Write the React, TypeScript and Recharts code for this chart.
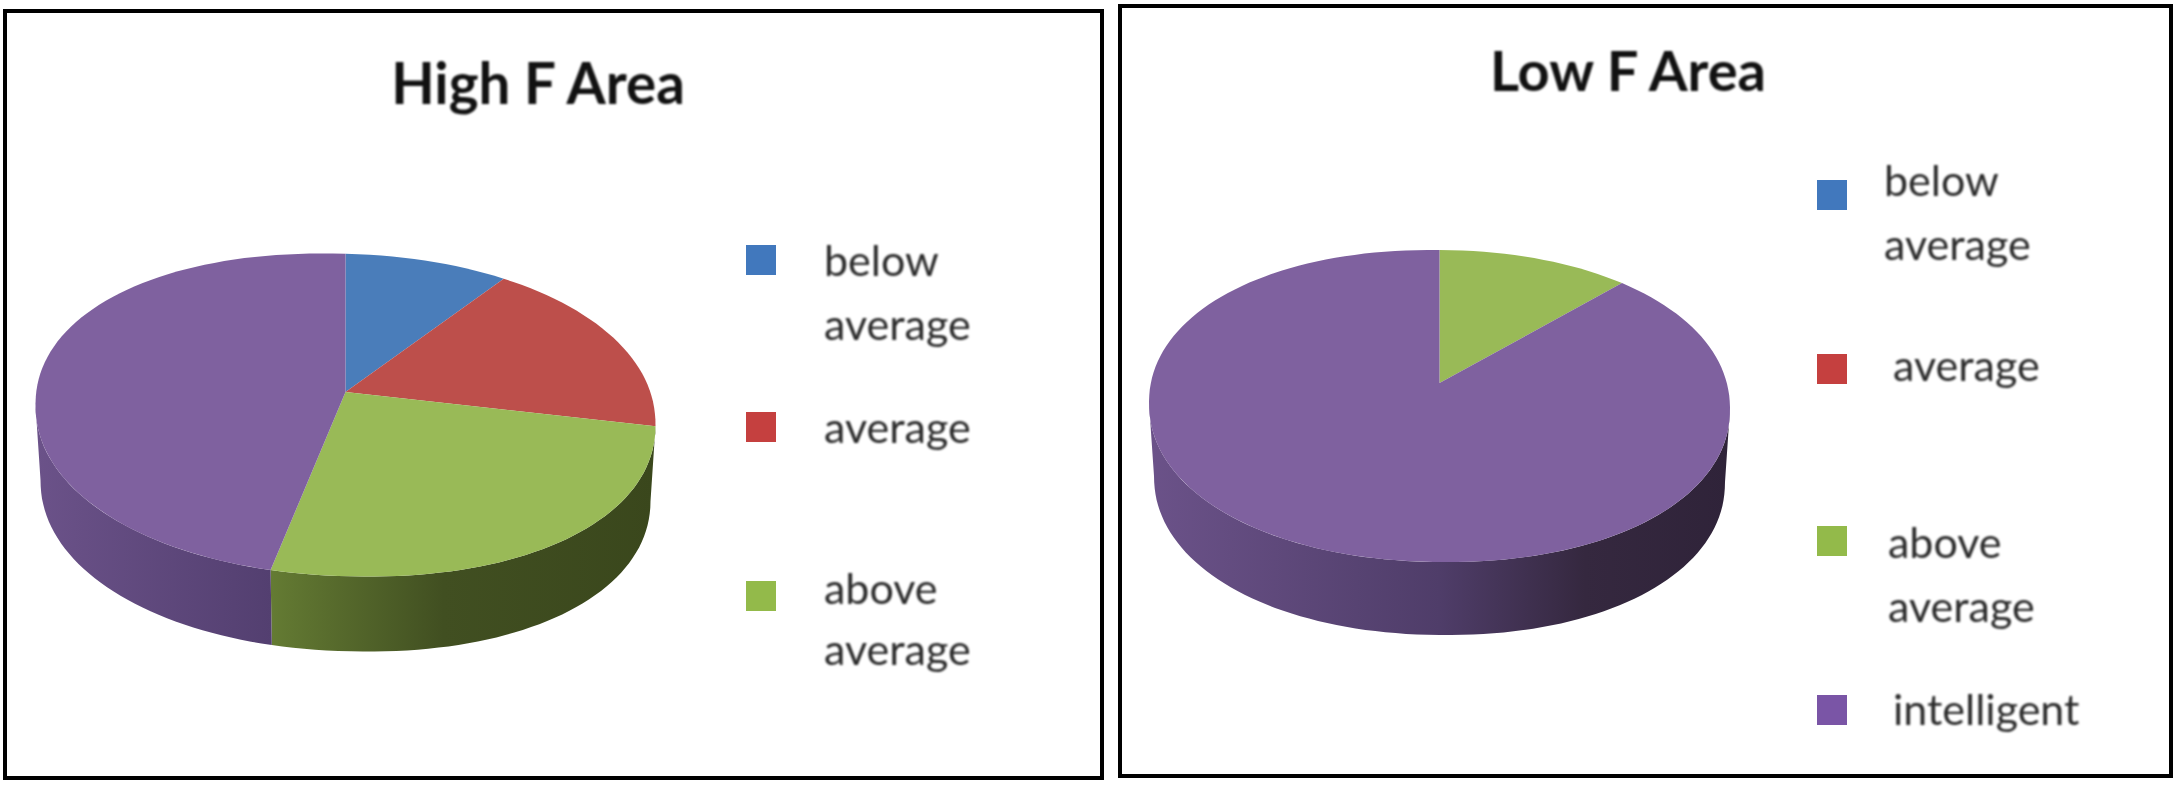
import { PieChart, Pie } from 'recharts';

const categories = ['below average', 'average', 'above average', 'intelligent'];
const highFValues = [8.2, 16.9, 28.5, 46.4];
const lowFValues = [0, 0, 10.5, 89.5];

const topColors = ['#4a7dba', '#bd4f4b', '#99ba57', '#7f619f'];
const swatchColors = ['#4178bd', '#c5403f', '#93ba4a', '#7a55a6'];
const highWalls = ['none', 'none', 'url(#highGreenWall)', 'url(#highPurpleWall)'];
const lowWalls = ['none', 'none', 'none', 'url(#lowPurpleWall)'];

const highGeo = { cx: 345.5, cy: 415, rx: 310, ryRatio: 0.52, lift: 23, tilt: 10, depth: 75, inset: 5 };
const lowGeo = { cx: 1439.5, cy: 406, rx: 290.5, ryRatio: 0.537, lift: 23, tilt: 3, depth: 73, inset: 5 };

type Geo = typeof highGeo;

const highLegend = [
  { color: 0, x: 746, y: 245, lines: [['below', 824, 259], ['average', 824, 323]] },
  { color: 1, x: 746, y: 412, lines: [['average', 824, 426]] },
  { color: 2, x: 746, y: 581, lines: [['above', 824, 587], ['average', 824, 648]] },
];
const lowLegend = [
  { color: 0, x: 1817, y: 180, lines: [['below', 1884, 179], ['average', 1884, 243]] },
  { color: 1, x: 1817, y: 354, lines: [['average', 1893, 364]] },
  { color: 2, x: 1817, y: 526, lines: [['above', 1888, 541], ['average', 1888, 605]] },
  { color: 3, x: 1817, y: 695, lines: [['intelligent', 1893, 708]] },
];

const table = (values: number[], fills: string[]) =>
  categories.map((name, i) => ({ name, value: values[i], fill: fills[i] }));

// the picture is a tilted 3D pie, so slices are projected onto a slightly squarish ellipse
const ROUND = 0.95;
const soft = (v: number) => Math.sign(v) * Math.pow(Math.abs(v), ROUND);

function ring(cx: number, cy: number, rx: number, ry: number, tilt: number, from: number, to: number) {
  const pts: string[] = [];
  const steps = Math.max(2, Math.ceil(Math.abs(to - from) / 2));
  for (let i = 0; i <= steps; i++) {
    const a = ((from + ((to - from) * i) / steps) * Math.PI) / 180;
    const x = cx + rx * soft(Math.sin(a));
    const y = cy - ry * soft(Math.cos(a)) + tilt * Math.sin(a);
    pts.push(`${x.toFixed(1)} ${y.toFixed(1)}`);
  }
  return pts;
}

const topShape = (geo: Geo) => (props: any) => {
  const { cx, cy, outerRadius, startAngle, endAngle, fill } = props;
  if (startAngle === endAngle) return <g />;
  const pts = ring(cx, cy, outerRadius, outerRadius * geo.ryRatio, geo.tilt, 90 - startAngle, 90 - endAngle);
  return <path d={`M${cx} ${cy - geo.lift}L${pts.join('L')}Z`} fill={fill} />;
};

const wallShape = (geo: Geo) => (props: any) => {
  const { cx, cy, outerRadius, startAngle, endAngle, fill } = props;
  const from = Math.max(90 - startAngle, 90);
  const to = Math.min(90 - endAngle, 270);
  if (fill === 'none' || to <= from) return <g />;
  const ry = outerRadius * geo.ryRatio;
  const upper = ring(cx, cy, outerRadius, ry, geo.tilt, from, to);
  const lower = ring(cx, cy + geo.depth, outerRadius - geo.inset, ry, geo.tilt, to, from);
  return <path d={`M${upper.join('L')}L${lower.join('L')}Z`} fill={fill} />;
};

const FONT = 'Lato, "Open Sans", sans-serif';

function Frame({ x, y, w, h }: { x: number; y: number; w: number; h: number }) {
  return (
    <div
      style={{
        position: 'absolute',
        left: x,
        top: y,
        width: w,
        height: h,
        boxSizing: 'border-box',
        border: '4px solid #000',
      }}
    />
  );
}

function Label({ text, x, y, size, bold }: { text: string; x: number; y: number; size: number; bold?: boolean }) {
  return (
    <div
      style={{
        position: 'absolute',
        left: x,
        top: y,
        transform: bold ? 'translate(-50%, -50%)' : 'translateY(-50%)',
        fontFamily: FONT,
        fontSize: size,
        fontWeight: bold ? 700 : 400,
        color: bold ? '#111' : '#2b2b2b',
        whiteSpace: 'nowrap',
        filter: 'blur(0.8px)',
      }}
    >
      {text}
    </div>
  );
}

function LegendRows({ rows }: { rows: typeof highLegend }) {
  return (
    <>
      {rows.map((row) => (
        <div key={row.color}>
          <div
            style={{
              position: 'absolute',
              left: row.x,
              top: row.y,
              width: 30,
              height: 30,
              background: swatchColors[row.color],
              filter: 'blur(0.7px)',
            }}
          />
          {row.lines.map(([text, x, y]) => (
            <Label key={String(text) + y} text={String(text)} x={Number(x)} y={Number(y)} size={43} />
          ))}
        </div>
      ))}
    </>
  );
}

function Pie3D({ geo, values, walls }: { geo: Geo; values: number[]; walls: string[] }) {
  const wallShapeFn = wallShape(geo);
  const topShapeFn = topShape(geo);
  return (
    <div style={{ position: 'absolute', left: 0, top: 0 }}>
      <PieChart width={2175} height={791} margin={{ top: 0, right: 0, bottom: 0, left: 0 }}>
        <defs>
          <linearGradient id="highGreenWall" x1="0" y1="0" x2="1" y2="0">
            <stop offset="0%" stopColor="#647b33" />
            <stop offset="45%" stopColor="#414f21" />
            <stop offset="100%" stopColor="#3a471c" />
          </linearGradient>
          <linearGradient id="highPurpleWall" x1="0" y1="0" x2="1" y2="0">
            <stop offset="0%" stopColor="#6b5289" />
            <stop offset="100%" stopColor="#533f70" />
          </linearGradient>
          <linearGradient id="lowPurpleWall" x1="0" y1="0" x2="1" y2="0">
            <stop offset="0%" stopColor="#6b5289" />
            <stop offset="50%" stopColor="#4f3d69" />
            <stop offset="75%" stopColor="#35283f" />
            <stop offset="100%" stopColor="#2f2339" />
          </linearGradient>
        </defs>
        <Pie
          data={table(values, walls)}
          dataKey="value"
          nameKey="name"
          cx={geo.cx}
          cy={geo.cy}
          innerRadius={0}
          outerRadius={geo.rx}
          startAngle={90}
          endAngle={-270}
          stroke="none"
          shape={wallShapeFn}
          inactiveShape={wallShapeFn}
          activeShape={wallShapeFn}
          isAnimationActive={false}
        />
        <Pie
          data={table(values, topColors)}
          dataKey="value"
          nameKey="name"
          cx={geo.cx}
          cy={geo.cy}
          innerRadius={0}
          outerRadius={geo.rx}
          startAngle={90}
          endAngle={-270}
          stroke="none"
          shape={topShapeFn}
          inactiveShape={topShapeFn}
          activeShape={topShapeFn}
          isAnimationActive={false}
        />
      </PieChart>
    </div>
  );
}

export default function App() {
  return (
    <div style={{ position: 'absolute', left: 0, top: 0, width: 2175, height: 791, background: '#fff', overflow: 'hidden' }}>
      <Pie3D geo={highGeo} values={highFValues} walls={highWalls} />
      <Pie3D geo={lowGeo} values={lowFValues} walls={lowWalls} />
      <Frame x={3} y={9} w={1101} h={771} />
      <Frame x={1118} y={4} w={1055} h={774} />
      <Label text="High F Area" x={538} y={82} size={56.5} bold />
      <Label text="Low F Area" x={1628} y={69} size={56} bold />
      <LegendRows rows={highLegend} />
      <LegendRows rows={lowLegend} />
    </div>
  );
}
